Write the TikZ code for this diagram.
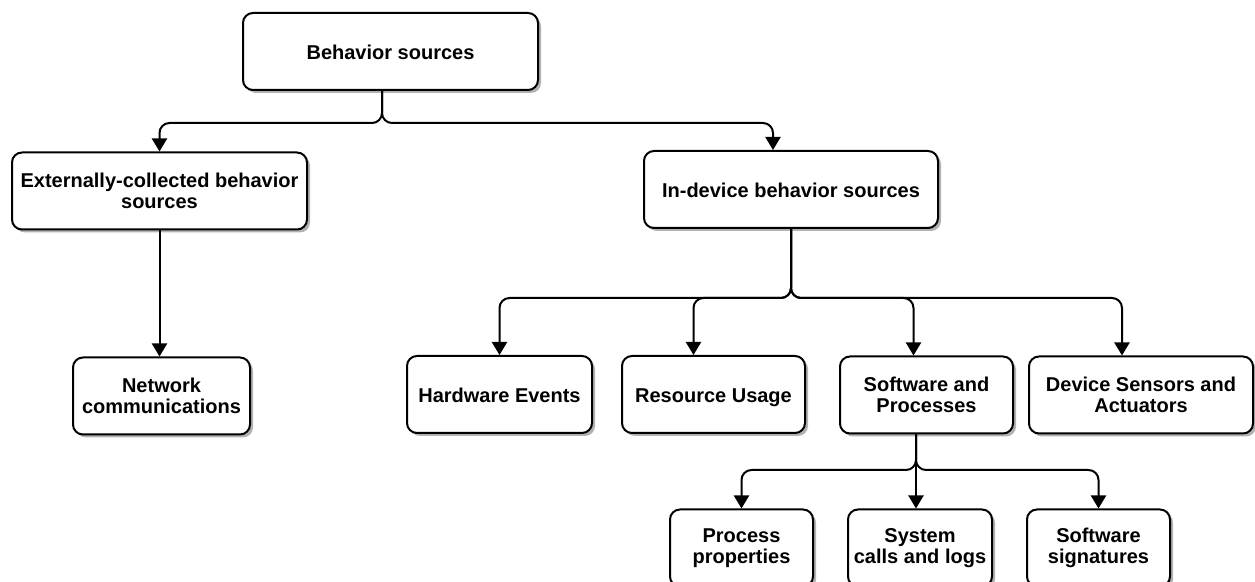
\documentclass[tikz,border=0pt]{standalone}
\usepackage{fontspec}
\setmainfont{Liberation Sans}
\usetikzlibrary{arrows.meta,shadows,calc}
\begin{document}
\begin{tikzpicture}[x=0.5pt,y=-0.5pt,
  box/.style={draw, line width=1pt, rounded corners=5pt, fill=white, inner sep=0pt,
    align=center, font=\bfseries\fontsize{10}{10.5}\selectfont, minimum height=38.5pt,
    drop shadow={shadow xshift=1.5pt, shadow yshift=-1.5pt, fill=black, opacity=0.3}},
  oneline/.style={text height=8pt, text depth=0pt},
  arr/.style={line width=1pt, rounded corners=5pt, -{Triangle[width=7.5pt,length=6.5pt]}}]
\useasboundingbox[fill=white] (0,0) rectangle (1255,582);
\node[box, oneline, minimum width=147.5pt] (bs) at (390.5,51.5) {Behavior sources};
\node[box, minimum width=147.5pt] (ext) at (159.5,191) {Externally-collected behavior\\sources};
\node[box, oneline, minimum width=147pt] (ind) at (791,189.5) {In-device behavior sources};
\node[box, minimum width=88.5pt] (net) at (161.5,396) {Network\\communications};
\node[box, oneline, minimum width=92.5pt] (hw) at (499.5,394.5) {Hardware Events};
\node[box, oneline, minimum width=91.5pt] (res) at (713.5,394.5) {Resource Usage};
\node[box, minimum width=86.5pt] (sw) at (926.5,395) {Software and\\Processes};
\node[box, minimum width=112pt] (dev) at (1141,395) {Device Sensors and\\Actuators};
\node[box, minimum width=71.5pt] (pp) at (741.5,548) {Process\\properties};
\node[box, minimum width=72pt] (sc) at (920,548) {System\\calls and logs};
\node[box, minimum width=71.5pt] (ss) at (1098.5,548) {Software\\signatures};
% connectors
\coordinate (j1) at (382,123);
\draw[arr] (bs.south -| j1) -- (j1) -| (ext.north);
\draw[arr] (bs.south -| j1) -- (j1) -| ($(ind.north)+(-18,0)$);
\draw[arr] (ext.south) -- (ext.south |- net.north);
\coordinate (j2) at (ind.south |- 0,298);
\draw[arr] (ind.south) -- (j2) -| (hw.north);
\draw[arr] (ind.south) -- (j2) -| ($(res.north)+(-20,0)$);
\draw[arr] (ind.south) -- (j2) -| ($(sw.north)+(-13,0)$);
\draw[arr] (ind.south) -- (j2) -| ($(dev.north)+(-19,0)$);
\coordinate (j3) at (916,470);
\draw[arr] (sw.south -| j3) -- (j3) -| (pp.north);
\draw[arr] (sw.south -| j3) -- (sc.north -| j3);
\draw[arr] (sw.south -| j3) -- (j3) -| (ss.north);
\end{tikzpicture}
\end{document}
